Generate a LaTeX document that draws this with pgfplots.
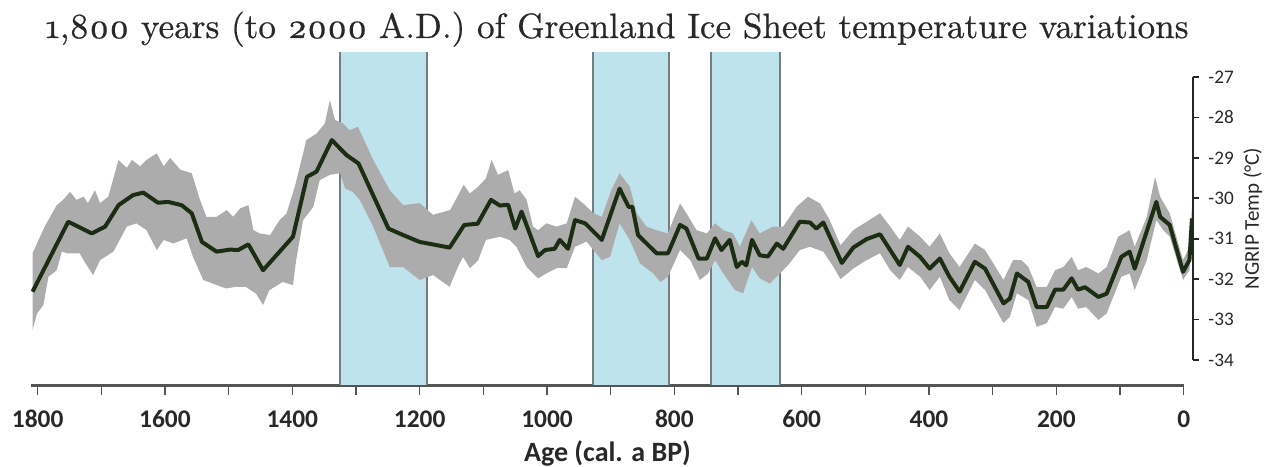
\documentclass[border=0pt]{standalone}
\usepackage{fontspec}
\setmainfont{Carlito}
\newfontfamily\titlefont{lmroman10-regular.otf}[Numbers=OldStyle, FakeBold=0.6]
\usepackage{pgfplots}
\usepackage{pgfplotstable}
\pgfplotsset{compat=1.18}
\newlength\px \setlength\px{0.5pt}
\definecolor{bandblue}{RGB}{190,227,237}
\definecolor{bandedge}{RGB}{115,125,130}
\definecolor{ci}{RGB}{172,172,172}
\definecolor{tline}{RGB}{27,46,20}
\definecolor{axgray}{RGB}{85,85,85}
\definecolor{txt}{RGB}{40,40,40}

\pgfplotstableread{
a v
1808 -32.31
1752 -30.58
1715 -30.87
1694 -30.70
1673 -30.17
1650 -29.92
1634 -29.86
1611 -30.11
1595 -30.09
1574 -30.17
1558 -30.37
1542 -31.08
1519 -31.32
1498 -31.27
1485 -31.28
1469 -31.14
1446 -31.78
1399 -30.95
1377 -29.47
1362 -29.34
1338 -28.56
1315 -28.93
1296 -29.14
1249 -30.75
1226 -30.91
1200 -31.08
1153 -31.22
1130 -30.66
1109 -30.63
1088 -30.04
1074 -30.18
1061 -30.16
1050 -30.75
1040 -30.33
1014 -31.43
1003 -31.28
988 -31.25
980 -31.03
967 -31.25
956 -30.54
940 -30.62
914 -31.03
886 -29.76
872 -30.21
866 -30.21
857 -30.91
828 -31.36
810 -31.36
791 -30.66
781 -30.75
762 -31.49
749 -31.49
736 -30.99
726 -31.28
713 -31.03
702 -31.70
694 -31.57
687 -31.66
678 -31.03
666 -31.41
653 -31.44
639 -31.12
629 -31.25
603 -30.58
587 -30.60
577 -30.75
566 -30.60
537 -31.60
519 -31.22
498 -31.01
477 -30.89
461 -31.28
446 -31.65
433 -31.20
414 -31.45
399 -31.74
383 -31.49
368 -31.94
352 -32.31
328 -31.57
312 -31.74
283 -32.60
273 -32.48
262 -31.86
244 -32.07
231 -32.69
215 -32.69
202 -32.26
189 -32.26
176 -31.98
166 -32.26
155 -32.20
134 -32.44
121 -32.36
98 -31.45
85 -31.32
77 -31.74
43 -30.09
37 -30.46
22 -30.66
1 -31.82
-9 -31.53
-13 -30.50
}\meantab

% uncertainty envelope: upper bound (old to young), then lower bound (young to old)
\pgfplotstableread{
a v
1808 -31.36
1789 -30.70
1770 -30.17
1760 -30.04
1749 -29.84
1739 -30.04
1728 -29.96
1721 -30.12
1710 -29.80
1702 -30.12
1689 -29.96
1673 -29.05
1660 -29.25
1652 -29.05
1639 -29.21
1629 -29.05
1613 -28.89
1602 -29.21
1592 -29.00
1576 -29.29
1558 -29.38
1545 -30.04
1535 -30.46
1519 -30.46
1503 -30.29
1493 -30.46
1482 -30.25
1469 -30.17
1461 -30.79
1451 -30.87
1435 -30.91
1420 -30.54
1409 -30.37
1396 -29.71
1378 -28.56
1362 -28.40
1349 -28.15
1341 -27.57
1333 -28.06
1320 -28.15
1310 -28.32
1297 -28.23
1273 -29.05
1247 -29.80
1226 -30.17
1200 -30.12
1179 -30.41
1152 -30.29
1131 -29.67
1121 -29.88
1108 -29.71
1096 -29.51
1087 -29.05
1077 -29.42
1061 -29.30
1051 -29.88
1043 -29.80
1032 -30.04
1022 -30.70
1014 -30.79
1001 -30.62
985 -30.70
969 -30.62
956 -29.96
943 -30.13
927 -30.37
914 -30.46
899 -29.80
886 -29.38
870 -29.71
859 -30.37
844 -30.70
828 -30.79
810 -30.87
802 -30.54
791 -30.13
781 -30.37
765 -30.79
749 -30.87
736 -30.62
723 -30.79
708 -30.87
697 -31.20
679 -30.54
666 -30.87
645 -30.70
629 -30.70
608 -30.21
590 -29.96
571 -30.13
556 -30.54
539 -31.16
519 -30.79
498 -30.58
477 -30.37
461 -30.70
446 -31.03
433 -30.70
414 -30.95
399 -31.20
383 -30.87
368 -31.36
352 -31.70
328 -31.12
312 -31.28
283 -32.02
268 -31.53
255 -31.53
244 -31.70
231 -32.19
215 -32.19
202 -31.78
189 -31.70
176 -31.45
166 -31.78
153 -31.70
134 -31.86
121 -31.70
103 -30.95
85 -30.79
77 -31.20
58 -30.46
45 -29.47
37 -29.96
22 -30.37
1 -31.53
-9 -31.20
-13 -30.21
-13 -30.79
-9 -31.78
1 -32.02
22 -30.95
32 -30.79
43 -30.54
58 -31.53
77 -32.27
85 -31.86
98 -31.94
121 -32.85
134 -33.01
153 -32.69
166 -32.73
176 -32.44
189 -32.73
202 -32.69
215 -33.09
231 -33.18
244 -32.52
262 -32.35
273 -32.93
283 -33.09
312 -32.27
328 -32.02
352 -32.77
368 -32.52
383 -31.94
399 -32.27
414 -31.94
433 -31.70
446 -32.02
461 -31.78
477 -31.36
498 -31.53
519 -31.74
539 -32.00
550 -31.70
566 -31.32
587 -31.20
603 -31.28
619 -31.61
634 -31.86
650 -32.11
666 -31.98
678 -31.70
692 -32.35
705 -32.27
723 -31.86
736 -31.53
747 -31.86
760 -32.02
775 -31.53
791 -31.28
810 -31.94
822 -32.07
833 -31.86
854 -31.61
870 -31.03
886 -30.62
901 -31.45
914 -31.53
938 -31.07
956 -31.20
969 -31.73
985 -31.73
1001 -31.86
1014 -31.98
1032 -31.70
1048 -31.20
1059 -31.03
1074 -30.95
1096 -31.03
1108 -31.53
1121 -31.73
1132 -31.45
1140 -31.70
1153 -32.19
1179 -31.90
1200 -32.02
1226 -31.70
1247 -31.70
1273 -30.70
1294 -30.04
1305 -29.84
1317 -29.76
1325 -29.38
1341 -29.42
1357 -29.55
1367 -30.21
1383 -30.54
1394 -31.53
1399 -32.15
1415 -32.07
1436 -32.27
1446 -32.64
1457 -32.36
1473 -32.19
1488 -32.19
1504 -32.23
1525 -32.11
1540 -32.02
1556 -31.45
1566 -30.99
1587 -31.12
1602 -31.03
1613 -31.28
1629 -30.79
1645 -30.62
1660 -30.70
1681 -31.32
1702 -31.53
1713 -31.90
1728 -31.53
1734 -31.36
1754 -31.36
1762 -31.32
1770 -31.78
1783 -31.94
1791 -32.64
1801 -32.85
1808 -33.26
}\envtab

\begin{document}
\begin{tikzpicture}
\path[use as bounding box] (0,0) rectangle (1269\px,466\px);

\node[anchor=base, inner sep=0pt, text=txt] at (617\px,428\px)
  {\resizebox{1143\px}{!}{\titlefont 1,800 years (to 2000 A.D.) of Greenland Ice Sheet temperature variations}};

\begin{axis}[
  at={(31.3\px,81\px)}, anchor=south west, scale only axis,
  width=1152.4\px, height=333\px,
  x dir=reverse, xmin=0, xmax=1810, ymin=-34.619, ymax=-26.381,
  clip=false,
  axis x line*=bottom, axis y line=none,
  x axis line style={-, draw=axgray, line width=1.5pt},
  xtick={0,100,...,1800},
  xticklabels={0,,200,,400,,600,,800,,1000,,1200,,1400,,1600,,1800},
  xtick align=outside, major tick length=5pt,
  every tick/.style={draw=axgray, line width=0.8pt},
  xticklabel style={anchor=base, yshift=-32\px, inner sep=0pt,
    font=\fontsize{12.7pt}{14pt}\selectfont\bfseries, text=txt},
  xlabel={Age (cal. a BP)},
  xlabel style={anchor=base, yshift=-33\px, inner sep=0pt,
    font=\fontsize{14pt}{16pt}\selectfont\bfseries, text=txt},
]
% shaded periods
\addplot[fill=bandblue, draw=none] coordinates {(1325,-34.619) (1325,-26.381) (1188,-26.381) (1188,-34.619)};
\addplot[fill=bandblue, draw=none] coordinates {(927,-34.619) (927,-26.381) (809,-26.381) (809,-34.619)};
\addplot[fill=bandblue, draw=none] coordinates {(743,-34.619) (743,-26.381) (634,-26.381) (634,-34.619)};
\addplot[draw=bandedge, line width=1pt] coordinates {(1325,-34.619) (1325,-26.381)};
\addplot[draw=bandedge, line width=1pt] coordinates {(1188,-34.619) (1188,-26.381)};
\addplot[draw=bandedge, line width=1pt] coordinates {(927,-34.619) (927,-26.381)};
\addplot[draw=bandedge, line width=1pt] coordinates {(809,-34.619) (809,-26.381)};
\addplot[draw=bandedge, line width=1pt] coordinates {(743,-34.619) (743,-26.381)};
\addplot[draw=bandedge, line width=1pt] coordinates {(634,-34.619) (634,-26.381)};
% uncertainty band
\addplot[fill=ci, draw=none] table[x=a, y=v] {\envtab};
% temperature
\addplot[draw=tline, line width=2pt, line join=round] table[x=a, y=v] {\meantab};
\end{axis}

\begin{axis}[
  at={(31.3\px,106\px)}, anchor=south west, scale only axis,
  width=1161.7\px, height=283\px,
  xmin=0, xmax=1, ymin=-34, ymax=-27,
  axis x line=none, axis y line*=right,
  y axis line style={-, draw=black!85, line width=1pt},
  ytick={-34,-33,-32,-31,-30,-29,-28,-27},
  yticklabels={-34,-33,-32,-31,-30,-29,-28,-27},
  ytick align=outside, major tick length=3pt,
  every tick/.style={draw=black!85, line width=0.8pt},
  yticklabel style={anchor=west, inner sep=0pt, xshift=9\px,
    font=\fontsize{9.6pt}{11pt}\selectfont, text=txt},
  clip=false,
]
\addplot[draw=none] coordinates {(0,-34) (1,-27)};
\node[rotate=90, inner sep=0pt, text=txt, font=\fontsize{10.5pt}{12pt}\selectfont]
  at (axis cs:1.0516,-30.5) {NGRIP Temp (°C)};
\end{axis}
\end{tikzpicture}
\end{document}
